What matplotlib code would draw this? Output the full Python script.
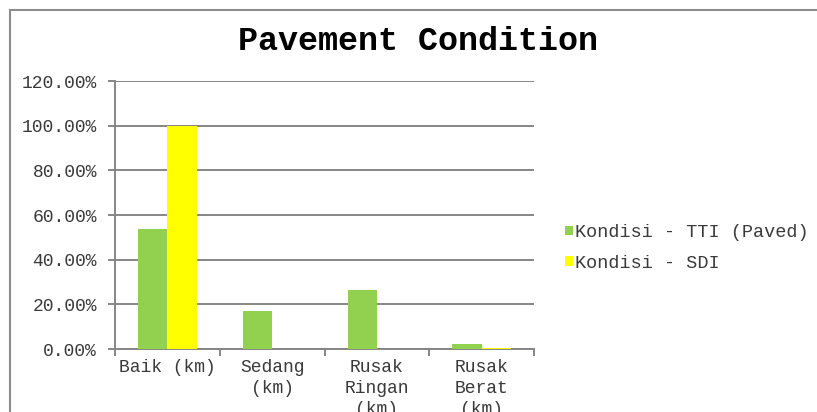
import numpy as np
import matplotlib
matplotlib.use('Agg')
import matplotlib.pyplot as plt
from matplotlib.patches import Rectangle

# Data
categories = ['Baik (km)', 'Sedang\n(km)', 'Rusak\nRingan\n(km)', 'Rusak\nBerat\n(km)']
tti_paved = [0.537, 0.170, 0.266, 0.022]
sdi = [1.000, 0.0, 0.0, 0.005]
series_names = ['Kondisi - TTI (Paved)', 'Kondisi - SDI']
y_ticks = [0.0, 0.2, 0.4, 0.6, 0.8, 1.0, 1.2]

plt.rcParams['font.family'] = ['Liberation Mono', 'DejaVu Sans Mono']

fig = plt.figure(figsize=(8.17, 4.12), dpi=100)
ax = fig.add_axes([115 / 817, 63 / 412, 419 / 817, 268 / 412])

grid_col = '#868686'
text_col = '#3a3a3a'
x = np.arange(len(categories))
w = 0.28
ax.bar(x - w / 2, tti_paved, width=w, color='#92D050', label=series_names[0], zorder=3)
ax.bar(x + w / 2, sdi, width=w, color='#FFFF00', label=series_names[1], zorder=3)

ax.set_xlim(-0.5, len(categories) - 0.5)
ax.set_ylim(0, 1.2)
ax.set_yticks(y_ticks)
ax.set_yticklabels([f'{v * 100:.2f}%' for v in y_ticks])
ax.yaxis.grid(True, color=grid_col, linewidth=1.4, zorder=0)

# category labels in the middle, tick marks at the boundaries
ax.set_xticks(x)
ax.set_xticklabels(categories, va='top', linespacing=1.3)
ax.set_xticks(np.arange(len(categories) + 1) - 0.5, minor=True)
ax.tick_params(axis='x', which='major', length=0, pad=7)
ax.tick_params(axis='x', which='minor', length=5, width=1.4, color=grid_col)
ax.tick_params(axis='y', length=5, width=1.4, color=grid_col, pad=8)
ax.tick_params(labelsize=13, labelcolor=text_col)

for s in ['top', 'right']:
    ax.spines[s].set_visible(False)
for s in ['left', 'bottom']:
    ax.spines[s].set_color(grid_col)
    ax.spines[s].set_linewidth(1.4)

fig.text(418 / 817, 371 / 412, 'Pavement Condition', ha='center', va='center',
         fontsize=24, fontweight='bold', color='black')

ax.legend(loc='center left', bbox_to_anchor=(548 / 817, 164 / 412),
          bbox_transform=fig.transFigure, frameon=False, fontsize=13.3,
          handlelength=0.45, handleheight=0.45, handletextpad=0.1,
          labelspacing=0.75, labelcolor=text_col)

# outer chart border (continues past the right and bottom edges)
fig.patches.append(Rectangle((10 / 817, -0.1), 1.2, (402 / 412) + 0.1,
                             transform=fig.transFigure, fill=False,
                             edgecolor='#8c8c8c', linewidth=1.5))

fig.savefig('out.png', dpi=100)
